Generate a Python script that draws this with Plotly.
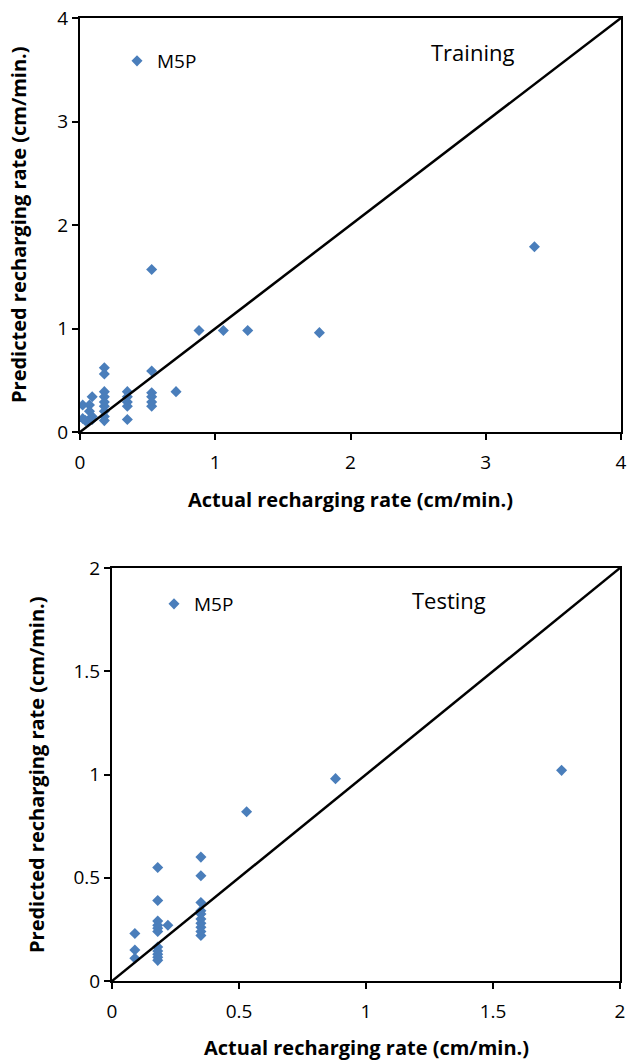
import plotly.graph_objects as go

W, H = 627, 1062

# ---------------- Data ----------------
train_actual = [0.53, 0.88, 1.06, 1.24, 3.36, 1.77, 0.71,
                0.18, 0.18, 0.18, 0.18, 0.18, 0.18, 0.18, 0.18, 0.18,
                0.35, 0.35, 0.35, 0.35, 0.35,
                0.53, 0.53, 0.53, 0.53, 0.53,
                0.02, 0.02, 0.09, 0.07, 0.07, 0.09, 0.06, 0.09, 0.04]
train_pred = [1.57, 0.98, 0.98, 0.98, 1.79, 0.96, 0.39,
              0.62, 0.56, 0.39, 0.34, 0.29, 0.25, 0.20, 0.15, 0.11,
              0.39, 0.34, 0.29, 0.25, 0.12,
              0.59, 0.38, 0.34, 0.29, 0.25,
              0.26, 0.13, 0.34, 0.26, 0.20, 0.15, 0.10, 0.12, 0.11]

test_actual = [0.09, 0.09, 0.09,
               0.18, 0.18, 0.18, 0.18, 0.18, 0.18, 0.18, 0.18, 0.18, 0.18, 0.18,
               0.22,
               0.35, 0.35, 0.35, 0.35, 0.35, 0.35, 0.35, 0.35, 0.35, 0.35,
               0.53, 0.88, 1.77]
test_pred = [0.23, 0.15, 0.11,
             0.55, 0.39, 0.29, 0.27, 0.255, 0.24, 0.165, 0.145, 0.13, 0.115, 0.10,
             0.27,
             0.60, 0.51, 0.38, 0.34, 0.325, 0.30, 0.28, 0.26, 0.24, 0.22,
             0.82, 0.98, 1.02]

train_line = [0, 4]
test_line = [0, 2]
train_ticks = [0, 1, 2, 3, 4]
test_ticks = [0, 0.5, 1, 1.5, 2]
test_tick_text = ["0", "0.5", "1", "1.5", "2"]

series_name = "M5P"
x_title = "Actual recharging rate (cm/min.)"
y_title = "Predicted recharging rate (cm/min.)"

# ---------------- Styling ----------------
BLUE = "#4a7ebb"
FONT = "Open Sans"

def px_x(p):
    return p / W

def px_y(p):
    return 1 - p / H

fig = go.Figure()

fig.add_trace(go.Scatter(x=train_actual, y=train_pred, mode="markers", name=series_name,
                         marker=dict(symbol="diamond", size=8.5, color=BLUE, line=dict(width=0)),
                         xaxis="x", yaxis="y", legend="legend"))
fig.add_trace(go.Scatter(x=train_line, y=train_line, mode="lines", showlegend=False,
                         line=dict(color="black", width=2.5), xaxis="x", yaxis="y",
                         hoverinfo="skip"))
fig.add_trace(go.Scatter(x=test_actual, y=test_pred, mode="markers", name=series_name,
                         marker=dict(symbol="diamond", size=8.5, color=BLUE, line=dict(width=0)),
                         xaxis="x2", yaxis="y2", legend="legend2"))
fig.add_trace(go.Scatter(x=test_line, y=test_line, mode="lines", showlegend=False,
                         line=dict(color="black", width=2.5), xaxis="x2", yaxis="y2",
                         hoverinfo="skip"))

axis_common = dict(showgrid=False, zeroline=False, showline=True, linecolor="black",
                   linewidth=2, mirror=True, ticks="outside", ticklen=6, tickwidth=1.5,
                   tickcolor="black", automargin=False,
                   tickfont=dict(family=FONT, size=19, color="black"))

fig.update_layout(
    width=W, height=H,
    margin=dict(l=0, r=0, t=0, b=0),
    paper_bgcolor="white", plot_bgcolor="white",
    font=dict(family=FONT, color="black"),
    xaxis=dict(domain=[px_x(80), px_x(621)], range=[0, 4], tickvals=train_ticks,
               anchor="y", ticklabelstandoff=6, **axis_common),
    yaxis=dict(domain=[px_y(432), px_y(18)], range=[0, 4], tickvals=train_ticks,
               anchor="x", **axis_common),
    xaxis2=dict(domain=[px_x(112), px_x(620)], range=[0, 2], tickvals=test_ticks,
                ticktext=test_tick_text, anchor="y2", ticklabelstandoff=6, **axis_common),
    yaxis2=dict(domain=[px_y(981), px_y(568)], range=[0, 2], tickvals=test_ticks,
                ticktext=test_tick_text, anchor="x2", **axis_common),
    legend=dict(x=px_x(117), y=px_y(61), xanchor="left", yanchor="middle",
                bgcolor="rgba(0,0,0,0)", font=dict(family=FONT, size=19, color="black")),
    legend2=dict(x=px_x(154), y=px_y(604), xanchor="left", yanchor="middle",
                 bgcolor="rgba(0,0,0,0)", font=dict(family=FONT, size=19, color="black")),
    showlegend=True,
)

title_font = dict(family=FONT, size=20, color="black", weight="bold")
annos = [
    dict(text=x_title, x=px_x(350), y=px_y(499), font=title_font),
    dict(text=x_title, x=px_x(366), y=px_y(1047), font=title_font),
    dict(text=y_title, x=px_x(18), y=px_y(225), textangle=-90, font=title_font),
    dict(text=y_title, x=px_x(36), y=px_y(775), textangle=-90, font=title_font),
    dict(text="Training", x=px_x(472), y=px_y(52), font=dict(family=FONT, size=22, color="black")),
    dict(text="Testing", x=px_x(449), y=px_y(600), font=dict(family=FONT, size=22, color="black")),
]
for a in annos:
    fig.add_annotation(xref="paper", yref="paper", xanchor="center", yanchor="middle",
                       showarrow=False, **a)

# remove the browser's default page margin so the figure fills the window exactly
fig.write_html("out.html", config={"displayModeBar": False},
               post_script="document.body.style.margin='0';"
                           "document.documentElement.style.overflow='hidden';")
